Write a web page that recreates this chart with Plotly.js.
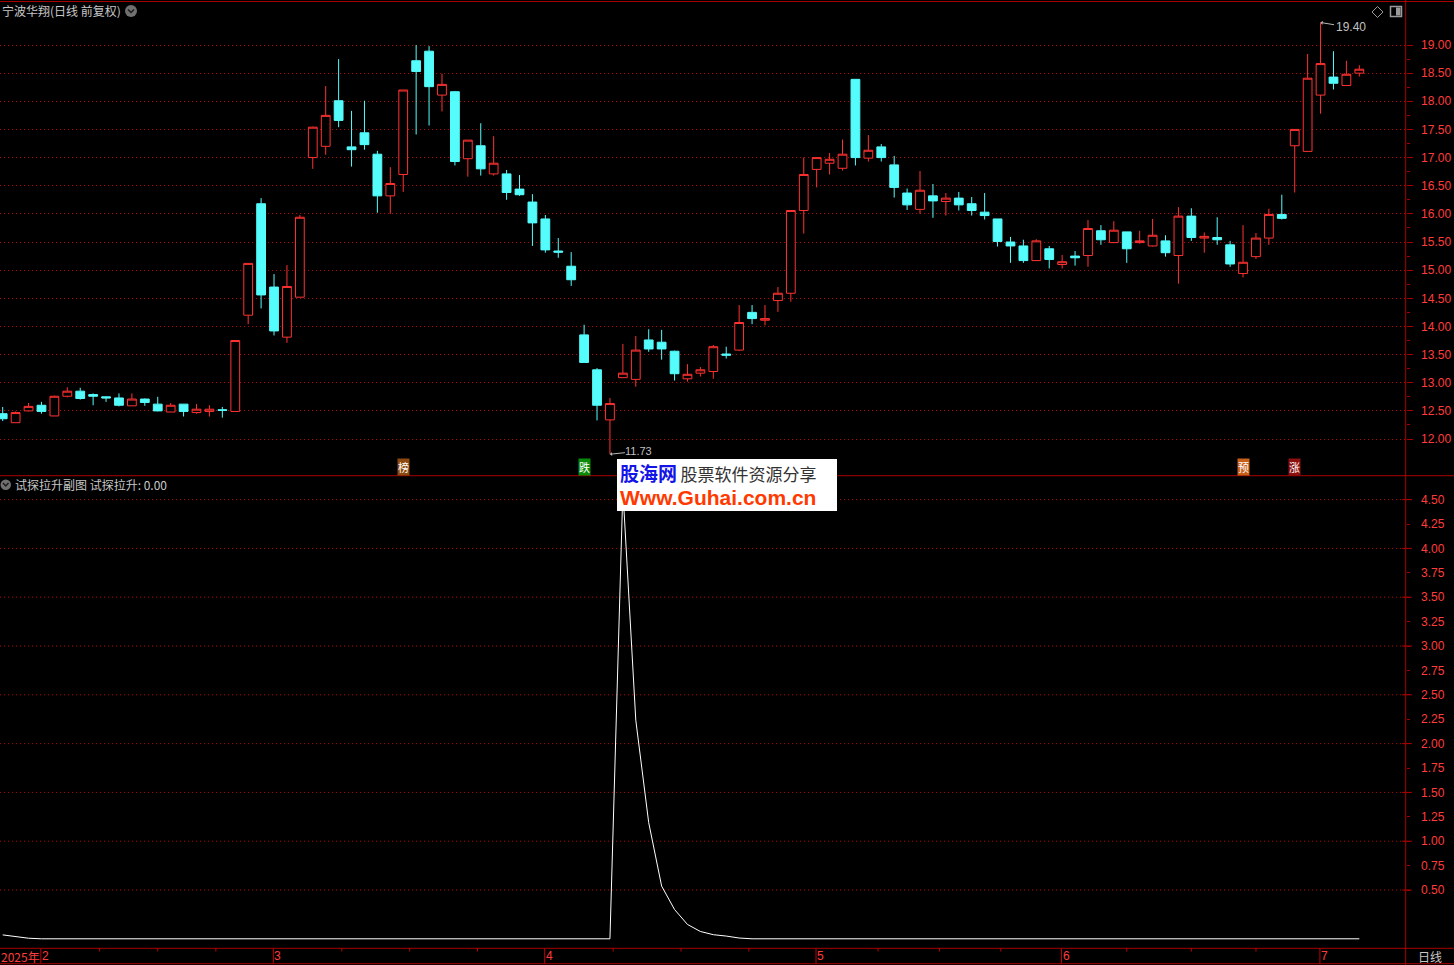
<!DOCTYPE html>
<html>
<head>
<meta charset="utf-8">
<script src="https://cdn.plot.ly/plotly-3.0.1.min.js"></script>
<style>
html,body{margin:0;padding:0;background:#000;overflow:hidden;}
#chart{width:1454px;height:965px;}
</style>
</head>
<body>
<div id="chart"></div>
<script>
// ---------------- data ----------------
const dates = [
 '2025-01-23','2025-01-24','2025-01-27',
 '2025-02-05','2025-02-06','2025-02-07','2025-02-10','2025-02-11','2025-02-12','2025-02-13','2025-02-14',
 '2025-02-17','2025-02-18','2025-02-19','2025-02-20','2025-02-21','2025-02-24','2025-02-25','2025-02-26','2025-02-27','2025-02-28',
 '2025-03-03','2025-03-04','2025-03-05','2025-03-06','2025-03-07','2025-03-10','2025-03-11','2025-03-12','2025-03-13','2025-03-14',
 '2025-03-17','2025-03-18','2025-03-19','2025-03-20','2025-03-21','2025-03-24','2025-03-25','2025-03-26','2025-03-27','2025-03-28','2025-03-31',
 '2025-04-01','2025-04-02','2025-04-03','2025-04-07','2025-04-08','2025-04-09','2025-04-10','2025-04-11','2025-04-14','2025-04-15',
 '2025-04-16','2025-04-17','2025-04-18','2025-04-21','2025-04-22','2025-04-23','2025-04-24','2025-04-25','2025-04-28','2025-04-29','2025-04-30',
 '2025-05-06','2025-05-07','2025-05-08','2025-05-09','2025-05-12','2025-05-13','2025-05-14','2025-05-15','2025-05-16','2025-05-19',
 '2025-05-20','2025-05-21','2025-05-22','2025-05-23','2025-05-26','2025-05-27','2025-05-28','2025-05-29','2025-05-30',
 '2025-06-03','2025-06-04','2025-06-05','2025-06-06','2025-06-09','2025-06-10','2025-06-11','2025-06-12','2025-06-13','2025-06-16',
 '2025-06-17','2025-06-18','2025-06-19','2025-06-20','2025-06-23','2025-06-24','2025-06-25','2025-06-26','2025-06-27','2025-06-30',
 '2025-07-01','2025-07-02','2025-07-03','2025-07-04'
];
const open = [
 12.45,12.29,12.50,12.60,12.41,12.76,12.85,12.79,12.75,12.73,
 12.59,12.71,12.62,12.48,12.62,12.47,12.49,12.52,12.49,14.20,
 16.18,14.70,13.81,14.52,17.00,17.20,18.01,17.19,17.44,17.06,
 16.32,16.70,18.72,18.89,18.11,18.17,16.98,17.21,16.71,16.71,
 16.44,16.21,15.91,15.34,15.07,13.85,13.23,12.34,13.09,13.06,
 13.76,13.72,13.56,13.07,13.17,13.20,13.51,13.58,14.25,14.11,
 14.46,14.59,16.06,16.79,16.90,16.81,18.39,16.99,17.19,16.87,
 16.37,16.08,16.32,16.22,16.28,16.18,16.03,15.91,15.50,15.43,
 15.17,15.38,15.10,15.25,15.26,15.70,15.49,15.68,15.49,15.43,
 15.52,15.26,15.96,15.57,15.58,15.45,14.94,15.24,15.57,15.99,
 17.21,17.11,18.11,18.43,18.28,18.50
];
const high = [
 12.57,12.49,12.64,12.66,12.77,12.92,12.91,12.81,12.75,12.81,
 12.81,12.72,12.75,12.64,12.62,12.62,12.60,12.57,13.75,15.12,
 16.28,14.93,15.09,15.98,17.55,18.27,18.75,17.83,18.01,17.12,
 16.83,18.20,19.00,18.98,18.49,18.18,17.31,17.61,17.38,16.78,
 16.69,16.35,15.98,15.57,15.32,14.03,13.26,12.73,13.69,13.83,
 13.95,13.94,13.57,13.33,13.28,13.67,13.64,14.38,14.38,14.38,
 14.70,16.06,17.00,17.00,17.08,17.32,18.39,17.40,17.24,17.03,
 16.45,16.76,16.53,16.37,16.39,16.30,16.37,15.91,15.59,15.54,
 15.55,15.43,15.27,15.34,15.89,15.80,15.87,15.68,15.70,15.91,
 15.62,16.12,16.10,15.67,15.94,15.52,15.80,15.66,16.09,16.34,
 17.50,18.84,19.40,18.89,18.72,18.64
];
const low = [
 12.32,12.29,12.49,12.45,12.41,12.74,12.70,12.60,12.66,12.58,
 12.59,12.59,12.49,12.48,12.40,12.45,12.40,12.38,12.48,14.04,
 14.32,13.84,13.71,14.52,16.80,17.05,17.54,16.84,17.14,16.02,
 16.00,16.39,17.41,17.57,17.82,16.86,16.66,16.68,16.68,16.25,
 16.32,15.43,15.31,15.22,14.72,13.36,12.33,11.73,13.09,12.93,
 13.55,13.41,13.04,13.02,13.11,13.07,13.43,13.57,14.04,14.02,
 14.26,14.44,15.65,16.47,16.70,16.77,16.86,16.93,16.93,16.29,
 16.07,16.00,15.93,15.97,16.06,15.97,15.90,15.42,15.13,15.13,
 15.17,15.03,15.03,15.08,15.06,15.45,15.48,15.13,15.47,15.42,
 15.24,14.76,15.52,15.31,15.45,15.06,14.87,15.20,15.45,15.90,
 16.38,17.11,17.78,18.21,18.27,18.44
];
const close = [
 12.36,12.47,12.58,12.49,12.76,12.85,12.72,12.76,12.73,12.60,
 12.71,12.65,12.50,12.60,12.49,12.53,12.53,12.51,13.75,15.12,
 14.56,13.92,14.71,15.94,17.54,17.75,17.66,17.14,17.23,16.32,
 16.54,18.20,18.53,18.26,18.30,16.93,17.31,16.80,16.90,16.38,
 16.34,15.84,15.36,15.32,14.83,13.36,12.60,12.63,13.17,13.58,
 13.60,13.60,13.16,13.15,13.23,13.64,13.49,14.07,14.14,14.14,
 14.59,16.06,16.70,17.00,16.97,17.06,17.00,17.13,17.00,16.47,
 16.16,16.42,16.23,16.28,16.16,16.06,15.97,15.51,15.43,15.17,
 15.52,15.19,15.15,15.22,15.74,15.54,15.71,15.38,15.52,15.62,
 15.31,15.96,15.58,15.60,15.54,15.11,15.14,15.57,15.99,15.92,
 17.50,18.41,18.67,18.32,18.48,18.57
];
// 试探拉升 indicator
const probe = [
 0.04,0.02,0.006,0,0,0,0,0,0,0,
 0,0,0,0,0,0,0,0,0,0,
 0,0,0,0,0,0,0,0,0,0,
 0,0,0,0,0,0,0,0,0,0,
 0,0,0,0,0,0,0,0,4.60,2.24,
 1.19,0.54,0.30,0.147,0.075,0.042,0.028,0.008,0,0,
 0,0,0,0,0,0,0,0,0,0,
 0,0,0,0,0,0,0,0,0,0,
 0,0,0,0,0,0,0,0,0,0,
 0,0,0,0,0,0,0,0,0,0,
 0,0,0,0,0,0
];
const stockTitle = '宁波华翔(日线 前复权)';
const subTitle = '试探拉升副图';
const seriesName = '试探拉升';
const periodLabel = '日线';
const yearLabel = '2025年';
const monthKeys = ['2025-02','2025-03','2025-04','2025-05','2025-06','2025-07'];
const monthLabels = ['2','3','4','5','6','7'];
const priceTicks = [12,12.5,13,13.5,14,14.5,15,15.5,16,16.5,17,17.5,18,18.5,19];
const priceMinor = [12.25,12.75,13.25,13.75,14.25,14.75,15.25,15.75,16.25,16.75,17.25,17.75,18.25,18.75];
const probeTicks = [0.5,0.75,1,1.25,1.5,1.75,2,2.25,2.5,2.75,3,3.25,3.5,3.75,4,4.25,4.5];
const probeGrid = [0.5,1,1.5,2,2.5,3,3.5,4,4.5];
const signalDates = ['2025-03-17','2025-04-07','2025-06-23','2025-06-27'];
const signalText = ['榜','跌','预','涨'];
const signalColor = ['#8c4a10','#0a8a0a','#c8601a','#8c1010'];
const siteName = '股海网', siteSlogan = '股票软件资源分享', siteUrl = 'Www.Guhai.com.cn';

// ---------------- layout helpers ----------------
const W = 1454, H = 965;
const px = x => x / W;
const py = y => 1 - y / H;
const XR = [-0.209, 108.59];
const XD = 1405.7 / W;
const ix = i => (i - XR[0]) / (XR[1] - XR[0]) * XD;
const RED = '#ff3c3c', GRID = '#c00000', FRAME = '#a80000', TXT = '#c8c8c8';
const pathOf = pts => pts.map((p, k) => (k ? 'L' : 'M') + px(p[0]) + ',' + py(p[1])).join(' ') + (pts.closed ? ' Z' : '');

const traces = [
  {
    type: 'candlestick', x: dates, open: open, high: high, low: low, close: close,
    xaxis: 'x', yaxis: 'y', whiskerwidth: 0, hoverinfo: 'skip', showlegend: false,
    increasing: {line: {color: '#ff3232', width: 1}, fillcolor: '#000000'},
    decreasing: {line: {color: '#54fcfc', width: 1}, fillcolor: '#54fcfc'}
  },
  {
    type: 'scatter', mode: 'lines', x: dates, y: probe, name: seriesName,
    xaxis: 'x2', yaxis: 'y2', line: {color: '#ffffff', width: 1}, hoverinfo: 'skip', showlegend: false
  }
];

const shapes = [];
const line = (x0, y0, x1, y1, color, dash, width) => shapes.push({
  type: 'line', xref: 'paper', yref: 'paper', x0: px(x0), y0: py(y0), x1: px(x1), y1: py(y1),
  line: {color: color, width: width || 1, dash: dash || 'solid'}, layer: 'above'
});
// frame
line(0, 1.5, W, 1.5, FRAME);
line(0, 475.7, W, 475.7, FRAME);
line(0, 948.3, W, 948.3, FRAME);
line(0, 963.7, W, 963.7, FRAME);
line(1405.7, 0, 1405.7, H, FRAME);
// lower panel grid + long ticks
probeGrid.forEach(v => {
  shapes.push({type: 'line', xref: 'paper', yref: 'y2', x0: 0, x1: XD, y0: v, y1: v,
    line: {color: GRID, width: 1, dash: '1px,3px'}, layer: 'below'});
  shapes.push({type: 'line', xref: 'paper', yref: 'y2', x0: px(1402), x1: px(1412), y0: v, y1: v,
    line: {color: FRAME, width: 1}, layer: 'above'});
});
// month separators and quarter ticks on the time axis
const monthIdx = monthKeys.map(k => dates.findIndex(d => d.startsWith(k)));
monthIdx.forEach((m, k) => {
  const xp = ix(m - 0.05) * W;
  line(xp, 948.3, xp, 963.7, '#c00000');
  if (k < monthIdx.length - 1) {
    const n = monthIdx[k + 1];
    [1, 2, 3].forEach(q => {
      const xq = ix(m + (n - m) * q / 4) * W;
      line(xq, 948.3, xq, 951.5, '#c00000');
    });
  }
});
// title icons
shapes.push({type: 'circle', xref: 'paper', yref: 'paper', x0: px(125), x1: px(137), y0: py(17), y1: py(5),
  fillcolor: '#707070', line: {width: 0}, layer: 'above'});
shapes.push({type: 'path', xref: 'paper', yref: 'paper', path: pathOf([[128, 9.5], [131, 12.5], [134, 9.5]]),
  line: {color: '#1a1a1a', width: 1.5}, layer: 'above'});
shapes.push({type: 'circle', xref: 'paper', yref: 'paper', x0: px(0.5), x1: px(11), y0: py(490), y1: py(479.5),
  fillcolor: '#707070', line: {width: 0}, layer: 'above'});
shapes.push({type: 'path', xref: 'paper', yref: 'paper', path: pathOf([[3, 483], [5.75, 486], [8.5, 483]]),
  line: {color: '#1a1a1a', width: 1.5}, layer: 'above'});
// top-right icons
const dia = [[1377.5, 6.5], [1383, 12], [1377.5, 17.5], [1372, 12]]; dia.closed = true;
shapes.push({type: 'path', xref: 'paper', yref: 'paper', path: pathOf(dia), line: {color: '#9a9a9a', width: 1}, layer: 'above'});
shapes.push({type: 'rect', xref: 'paper', yref: 'paper', x0: px(1390.5), x1: px(1401.5), y0: py(16.5), y1: py(6.5),
  line: {color: '#9a9a9a', width: 1.5}, fillcolor: 'rgba(0,0,0,0)', layer: 'above'});
shapes.push({type: 'rect', xref: 'paper', yref: 'paper', x0: px(1396), x1: px(1400.5), y0: py(15.5), y1: py(7.5),
  line: {width: 0}, fillcolor: '#9a9a9a', layer: 'above'});
// site watermark box
shapes.push({type: 'rect', xref: 'paper', yref: 'paper', x0: px(617), x1: px(837), y0: py(511), y1: py(459),
  line: {width: 0}, fillcolor: '#ffffff', layer: 'above'});

const annotations = [];
const cjk = '"Noto Sans CJK SC", "Noto Sans", sans-serif';
annotations.push({xref: 'paper', yref: 'paper', x: px(0), y: py(11), xanchor: 'left', yanchor: 'middle',
  text: stockTitle, showarrow: false, font: {family: cjk, size: 12, color: TXT}});
annotations.push({xref: 'paper', yref: 'paper', x: px(13), y: py(484.5), xanchor: 'left', yanchor: 'middle',
  text: subTitle + ' ' + seriesName + ': ' + probe[probe.length - 1].toFixed(2), showarrow: false,
  font: {family: cjk, size: 12, color: TXT}});
annotations.push({xref: 'paper', yref: 'paper', x: px(1430), y: py(956), xanchor: 'center', yanchor: 'middle',
  text: periodLabel, showarrow: false, font: {family: cjk, size: 12, color: TXT}});
// month labels
annotations.push({xref: 'paper', yref: 'paper', x: ix(monthIdx[0] - 0.05), y: py(956), xanchor: 'right', yanchor: 'middle',
  text: yearLabel, showarrow: false, font: {family: cjk, size: 12, color: RED}, borderpad: 0});
monthIdx.forEach((m, k) => annotations.push({xref: 'paper', yref: 'paper', x: ix(m - 0.05), y: py(956),
  xanchor: 'left', yanchor: 'middle', text: monthLabels[k], showarrow: false,
  font: {family: 'Liberation Sans, sans-serif', size: 12, color: RED}, borderpad: 0}));
// signal markers
signalDates.forEach((d, k) => annotations.push({xref: 'x', yref: 'paper', x: dates.indexOf(d), y: py(467),
  xanchor: 'center', yanchor: 'middle', text: signalText[k], showarrow: false, bgcolor: signalColor[k],
  borderpad: 0, font: {family: cjk, size: 11, color: '#ffffff'}}));
// extreme labels
let hiIdx = 0, loIdx = 0;
high.forEach((v, i) => { if (v > high[hiIdx]) hiIdx = i; });
low.forEach((v, i) => { if (v < low[loIdx]) loIdx = i; });
annotations.push({xref: 'x', yref: 'y', x: hiIdx, y: high[hiIdx], ax: 30, ay: 5, text: high[hiIdx].toFixed(2),
  showarrow: true, arrowhead: 1, arrowsize: 0.7, arrowwidth: 1, arrowcolor: '#b8b8b8', standoff: 0,
  font: {family: 'Liberation Sans, sans-serif', size: 12, color: '#c0c0c0'}});
annotations.push({xref: 'x', yref: 'y', x: loIdx, y: low[loIdx], ax: 29, ay: -3, text: low[loIdx].toFixed(2),
  showarrow: true, arrowhead: 1, arrowsize: 0.7, arrowwidth: 1, arrowcolor: '#b8b8b8', standoff: 0, borderpad: 0,
  font: {family: 'Liberation Sans, sans-serif', size: 11, color: '#c0c0c0'}});
// site watermark text rows
annotations.push({xref: 'paper', yref: 'paper', x: px(619), y: py(472), xanchor: 'left', yanchor: 'middle',
  showarrow: false, borderpad: 0, font: {family: cjk, size: 16, color: '#333'},
  text: '<b><span style="color:#1414e6;font-size:19px">' + siteName + '</span></b> <span style="font-size:17px">' + siteSlogan + '</span>'});
annotations.push({xref: 'paper', yref: 'paper', x: px(619), y: py(497.5), xanchor: 'left', yanchor: 'middle',
  showarrow: false, borderpad: 0, font: {family: 'Liberation Sans, sans-serif', size: 21, color: '#ff3a00'},
  text: '<b>' + siteUrl + '</b>'});

const layout = {
  width: W, height: H,
  margin: {l: 0, r: 0, t: 0, b: 0, pad: 0},
  paper_bgcolor: '#000000', plot_bgcolor: '#000000',
  showlegend: false, hovermode: false,
  boxgap: 0.2, boxgroupgap: 0.15,
  xaxis: {domain: [0, XD], anchor: 'y', type: 'category', range: XR, showticklabels: false, ticks: '',
    showgrid: false, zeroline: false, showline: false, rangeslider: {visible: false}, fixedrange: true},
  xaxis2: {domain: [0, XD], anchor: 'y2', type: 'category', range: XR, showticklabels: false, ticks: '',
    showgrid: false, zeroline: false, showline: false, fixedrange: true},
  yaxis: {domain: [py(475.7), py(1.5)], anchor: 'x', side: 'right', range: [11.3485, 19.7728],
    tickmode: 'array', tickvals: priceTicks, tickformat: '.2f',
    showgrid: true, gridcolor: GRID, griddash: '1px,3px', gridwidth: 1, zeroline: false, showline: false,
    ticks: 'outside', ticklen: 6, tickcolor: FRAME, tickwidth: 1, ticklabelstandoff: 6,
    tickfont: {family: 'Liberation Sans, sans-serif', size: 12, color: RED},
    minor: {tickmode: 'array', tickvals: priceMinor, ticks: 'outside', ticklen: 3, tickcolor: FRAME, showgrid: false},
    fixedrange: true},
  yaxis2: {domain: [py(948.3), py(475.7)], anchor: 'x2', side: 'right', range: [-0.0973, 4.745],
    tickmode: 'array', tickvals: probeTicks, tickformat: '.2f',
    showgrid: false, zeroline: false, showline: false,
    ticks: 'outside', ticklen: 3, tickcolor: FRAME, tickwidth: 1, ticklabelstandoff: 9,
    tickfont: {family: 'Liberation Sans, sans-serif', size: 12, color: RED}, fixedrange: true},
  shapes: shapes,
  annotations: annotations
};

Plotly.newPlot('chart', traces, layout, {staticPlot: true, displayModeBar: false});
</script>
</body>
</html>
